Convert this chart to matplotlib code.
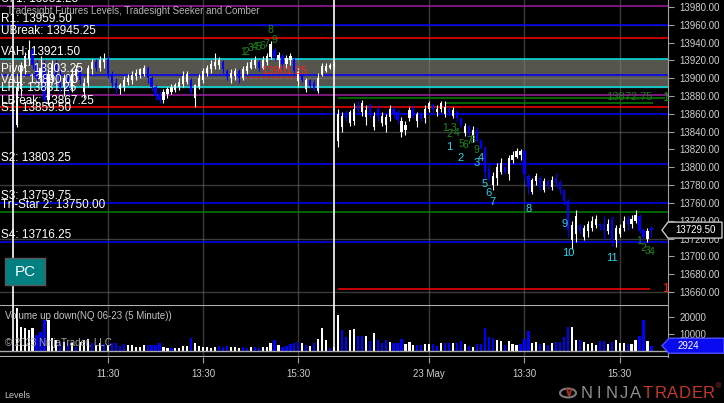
import numpy as np
import matplotlib.pyplot as plt
from matplotlib.patches import Rectangle, Polygon, Circle
from matplotlib.transforms import IdentityTransform

plt.rcParams['font.family'] = ['Liberation Sans', 'DejaVu Sans']

W, H = 724, 403

# --- 5 minute NQ bars, 22 May (bar -1 = previous session close) and 23 May ---
opens = [13862, 13848, 13888, 13912, 13922, 13932, 13915, 13900, 13915, 13876,
         13900, 13915, 13905, 13890, 13900, 13888, 13903, 13910, 13885, 13895,
         13910, 13918, 13912, 13918, 13922, 13905, 13895, 13888, 13890, 13896,
         13898, 13902, 13904, 13905, 13912, 13900, 13890, 13882, 13876, 13882,
         13885, 13887, 13890, 13894, 13896, 13898, 13878, 13890, 13898, 13906,
         13910, 13914, 13915, 13918, 13908, 13900, 13902, 13908, 13900, 13908,
         13912, 13915, 13918, 13912, 13918, 13924, 13932, 13920, 13925, 13916,
         13920, 13922, 13897, 13904, 13888, 13898, 13895, 13886, 13904, 13908,
         13912, 13914,
         13830, 13845, 13860, 13850, 13852, 13870, 13862, 13856, 13870, 13845,
         13866, 13850, 13848, 13856, 13866, 13862, 13840, 13842, 13855, 13866,
         13852, 13860, 13855, 13865, 13870, 13862, 13866, 13860, 13866, 13858,
         13862, 13855, 13838, 13846, 13835, 13842, 13830, 13822, 13798, 13780,
         13788, 13795, 13800, 13792, 13808, 13812, 13814, 13818, 13790, 13772,
         13785, 13788, 13775, 13785, 13778, 13788, 13784, 13775, 13762, 13718,
         13725, 13735, 13722, 13728, 13732, 13735, 13736, 13736, 13728, 13742,
         13718, 13725, 13732, 13742, 13736, 13740, 13745, 13730, 13720, 13732]
highs = [13866, 13895, 13918, 13930, 13943, 13935, 13920, 13925, 13920, 13910,
         13920, 13920, 13910, 13905, 13905, 13910, 13915, 13912, 13900, 13915,
         13922, 13922, 13925, 13928, 13925, 13908, 13900, 13895, 13902, 13905,
         13908, 13910, 13912, 13915, 13914, 13902, 13892, 13886, 13888, 13890,
         13893, 13895, 13900, 13908, 13908, 13900, 13894, 13905, 13912, 13915,
         13920, 13928, 13924, 13920, 13910, 13910, 13912, 13910, 13914, 13918,
         13922, 13925, 13920, 13925, 13928, 13942, 13934, 13930, 13928, 13926,
         13928, 13924, 13911, 13905, 13900, 13899, 13898, 13906, 13917, 13917,
         13917, 13918,
         13866, 13862, 13864, 13864, 13872, 13874, 13876, 13870, 13872, 13862,
         13870, 13862, 13860, 13870, 13868, 13866, 13856, 13852, 13868, 13870,
         13862, 13862, 13870, 13874, 13872, 13870, 13875, 13874, 13868, 13868,
         13864, 13856, 13850, 13848, 13846, 13845, 13832, 13824, 13805, 13795,
         13805, 13810, 13803, 13814, 13818, 13822, 13820, 13820, 13792, 13788,
         13794, 13790, 13788, 13786, 13790, 13794, 13786, 13776, 13764, 13740,
         13752, 13736, 13735, 13740, 13745, 13746, 13738, 13745, 13742, 13745,
         13735, 13736, 13745, 13746, 13746, 13752, 13748, 13732, 13732, 13734]
lows = [13831, 13845, 13880, 13905, 13915, 13910, 13895, 13895, 13872, 13870,
        13895, 13895, 13885, 13880, 13880, 13885, 13898, 13893, 13878, 13890,
        13905, 13908, 13908, 13912, 13900, 13890, 13882, 13882, 13886, 13892,
        13894, 13898, 13900, 13902, 13895, 13886, 13876, 13872, 13872, 13878,
        13882, 13884, 13887, 13890, 13894, 13882, 13868, 13888, 13895, 13902,
        13906, 13910, 13910, 13906, 13898, 13895, 13898, 13895, 13898, 13905,
        13910, 13912, 13908, 13910, 13915, 13922, 13920, 13912, 13912, 13912,
        13915, 13906, 13890, 13896, 13884, 13889, 13886, 13883, 13902, 13907,
        13910, 13912,
        13823, 13840, 13852, 13846, 13848, 13860, 13858, 13848, 13857, 13842,
        13852, 13846, 13840, 13852, 13855, 13850, 13834, 13836, 13852, 13855,
        13845, 13852, 13850, 13862, 13862, 13858, 13862, 13856, 13858, 13855,
        13852, 13845, 13835, 13834, 13828, 13828, 13820, 13788, 13785, 13774,
        13780, 13792, 13792, 13786, 13805, 13810, 13808, 13786, 13770, 13770,
        13780, 13774, 13772, 13776, 13775, 13778, 13770, 13758, 13722, 13708,
        13716, 13725, 13718, 13722, 13728, 13732, 13730, 13720, 13725, 13712,
        13710, 13722, 13728, 13730, 13732, 13738, 13726, 13718, 13716, 13722]
closes = [13845, 13890, 13915, 13925, 13932, 13915, 13900, 13912, 13876, 13905,
          13915, 13900, 13890, 13900, 13888, 13905, 13910, 13898, 13895, 13912,
          13918, 13912, 13920, 13922, 13905, 13895, 13888, 13892, 13898, 13900,
          13904, 13906, 13910, 13912, 13900, 13890, 13880, 13876, 13884, 13888,
          13890, 13892, 13896, 13903, 13905, 13884, 13892, 13900, 13908, 13912,
          13916, 13918, 13920, 13910, 13902, 13906, 13908, 13900, 13910, 13914,
          13918, 13920, 13912, 13920, 13925, 13938, 13924, 13926, 13916, 13923,
          13925, 13908, 13908, 13898, 13898, 13891, 13888, 13900, 13914, 13914,
          13915, 13916,
          13860, 13858, 13855, 13862, 13866, 13864, 13872, 13864, 13860, 13858,
          13856, 13858, 13856, 13865, 13860, 13853, 13852, 13848, 13864, 13858,
          13860, 13855, 13866, 13872, 13865, 13866, 13872, 13868, 13862, 13864,
          13855, 13848, 13846, 13838, 13842, 13830, 13822, 13795, 13788, 13790,
          13800, 13805, 13795, 13810, 13814, 13818, 13818, 13792, 13778, 13786,
          13790, 13778, 13785, 13780, 13786, 13782, 13774, 13762, 13730, 13735,
          13745, 13728, 13732, 13736, 13740, 13742, 13734, 13730, 13736, 13718,
          13732, 13732, 13740, 13736, 13742, 13746, 13728, 13722, 13728, 13729.5]

volumes = [1400, 25500, 14500, 13500, 12500, 13500, 9400, 11500, 18500, 18500,
           7400, 6400, 5400, 5400, 4400, 4400, 2400, 5400, 6400, 6800,
           4400, 3400, 4400, 4000, 3400, 4400, 4400, 2800, 4000, 3400,
           3400, 2400, 2400, 3400, 3400, 3400, 3400, 4400, 2400, 1400,
           1400, 1400, 1400, 3000, 3000, 7800, 4800, 2800, 2400, 2400,
           1400, 2400, 2800, 2400, 2800, 2000, 2400, 1400, 2000, 1400,
           2000, 2000, 1400, 2400, 2400, 4400, 6400, 3400, 2400, 2800,
           3800, 4400, 5400, 4400, 3400, 2800, 4400, 6800, 13500, 6400,
           1400, 2400,
           21500, 12450, 8430, 12450, 13050, 8830, 8830, 8830, 5820, 10640,
           6430, 4820, 6430, 5420, 4620, 4420, 7030, 4020, 5220, 3410,
           3410, 3410, 4020, 3800, 4020, 2810, 4620, 4420, 4820, 4620,
           4820, 5820, 4020, 2810, 2410, 4020, 4020, 13650, 8030, 7630,
           6430, 5820, 3410, 5820, 4020, 3610, 4020, 7030, 11850, 4820,
           5220, 4220, 4620, 3410, 4820, 5220, 5220, 8230, 14260, 14460,
           6430, 6430, 5220, 4020, 4820, 3610, 5820, 5820, 4020, 5220,
           6430, 4420, 4420, 4020, 4020, 6430, 8830, 18470, 5820, 2924]
# w = up volume (white), d = down volume (blue)
volume_dir = ("dwwwwwdddw" "wwdwdwdwww" "dwwdwddddw" "wwwwddddww" "dwwwwdwwww"
              "wwdddwwwdd" "wddwwwdwdd" "dddwdwdwww" "dw"
              "wddwwddwdw" "dddwdddwww" "ddwwddwddw" "ddwdwddddd" "wwdwwwdddw"
              "wdwdwddddw" "wdwwwwddwd" "wwwdwwddwd")

# levels (Tradesight Futures Levels)
level_names = ['UI 1', 'R1', 'UBreak', 'VAH', 'Pivot', 'VAL', 'LFT', 'LBreak',
               'S1', 'S2', 'S3', 'Tri-Star 2', 'S4']
level_prices = [13981.25, 13959.50, 13945.25, 13921.50, 13903.25, 13890.00,
                13881.25, 13867.25, 13859.50, 13803.25, 13759.75, 13750.00, 13716.25]
level_colors = ['#a01ea0', '#0000ff', '#ff0000', '#00e8e8', '#0000ff', '#00e8e8',
                '#a01ea0', '#ff0000', '#0000ff', '#0000ff', '#0000ff', '#008000', '#0000ff']

# seeker / comber counts
seeker_text = ['1', '2', '3', '4', '5', '6', '7', '8', '9',
               '1', '2', '3', '4', '5', '6', '7', '8', '9',
               '1', '2', '3', '4']
seeker_bar = [57, 58, 59, 60, 61, 62, 63, 64, 65,
              108, 109, 110, 111, 112, 113, 114, 115, 116,
              157, 158, 159, 160]
seeker_price = [13929.5, 13929.5, 13934, 13935, 13935, 13936, 13938.5, 13954, 13943,
                13844, 13837, 13844, 13838, 13826, 13825, 13830, 13831, 13819,
                13717, 13709, 13706, 13705]
comber_text = ['1', '2', '3', '4', '5', '6', '7', '8', '9', '10', '11']
comber_bar = [109, 112, 116, 117, 118, 119, 120, 129, 138, 139, 150]
comber_price = [13823, 13810, 13805, 13810, 13781, 13771, 13761, 13753, 13736, 13704, 13698]

time_ticks = [23, 47, 71, 104, 128, 152]
time_labels = ['11:30', '13:30', '15:30', '23 May', '13:30', '15:30']
session_breaks = [-0.9, 80.05]

x = np.arange(len(closes)) - 1
o = np.array(opens, float)
c = np.array(closes, float)
up = c >= o

fig = plt.figure(figsize=(W / 100, H / 100), dpi=100, facecolor='black')


def frac(x0, y0, x1, y1):
    return [x0 / W, 1 - y1 / H, (x1 - x0) / W, (y1 - y0) / H]


ax = fig.add_axes(frac(0, 0, 668, 305))
axv = fig.add_axes(frac(0, 305, 668, 357), sharex=ax)
for a in (ax, axv):
    a.set_facecolor('black')
    for s in a.spines.values():
        s.set_visible(False)

ax.set_xlim(-4.21, 164.18)
ax.set_ylim(13645.4, 13987.86)
axv.set_ylim(-3855, 27470)

# grid
grid_col = '#808080'
for t in time_ticks:
    ax.axvline(t, color=grid_col, alpha=0.45, lw=1, zorder=1)
    axv.axvline(t, color=grid_col, alpha=0.45, lw=1, zorder=1)
ax.axhspan(13890.0, 13921.5, color='#56554d', zorder=0)
for p in np.arange(13660, 13961, 60):
    ax.axhline(p, color=grid_col, alpha=0.45, lw=1, zorder=1)

# levels
for name, p, col in zip(level_names, level_prices, level_colors):
    ax.axhline(p, color=col, lw=1.1, zorder=2)
    ax.annotate(f'{name}: {p:.2f}', (ax.get_xlim()[0], p), xytext=(1, 0.5),
                textcoords='offset points', color='white', fontsize=8.5,
                va='bottom', ha='left', zorder=6, annotation_clip=False)

# day 2 targets
ax.hlines(13877.5, 81, 163.4, color='#008000', lw=1.1, zorder=2)
ax.hlines(13872.75, 108.2, 160.3, color='#008000', lw=1.1, zorder=2)
ax.text(160.3, 13873.5, '13872.75', color='#1c7a1c', fontsize=8, ha='right', va='bottom', zorder=6)
ax.text(163.6, 13877.5, '1', color='#1c8c1c', fontsize=9, ha='center', va='center', zorder=6)
ax.hlines(13663, 81, 159.6, color='#ff0000', lw=1.1, zorder=2)
ax.text(163.6, 13663, '1', color='#ff2020', fontsize=9, ha='center', va='center', zorder=6)
ax.hlines(13901.25, 56.8, 71.9, color='#ff0000', lw=0.9, ls=(0, (2, 2)), zorder=2)
ax.text(61.5, 13902.5, '13901.25', color='#ff2020', fontsize=8, ha='left', va='bottom', zorder=7)

# candles
cols = np.where(up, 'white', '#0000ff')
ax.vlines(x, lows, highs, colors=cols, lw=0.8, zorder=3)
body_lo = np.minimum(o, c)
body_h = np.maximum(np.abs(c - o), 0.8)
ax.bar(x, body_h, bottom=body_lo, width=0.55, color=cols, linewidth=0, zorder=4)

for t, b, p in zip(seeker_text, seeker_bar, seeker_price):
    ax.text(b, p, t, color='#1c8a1c', fontsize=7.5, ha='center', va='center', zorder=7)
for t, b, p in zip(comber_text, comber_bar, comber_price):
    ax.text(b, p, t, color='#2ad4f0', fontsize=8, ha='center', va='center', zorder=7)

# session breaks
for sb in session_breaks:
    ax.axvline(sb, color='white', lw=1.2, zorder=5)
    axv.vlines(sb, 0, 27470, color='white', lw=1.2, zorder=5)

# volume
vcols = ['white' if d == 'w' else '#0000ff' for d in volume_dir]
axv.bar(x, volumes, width=0.55, color=vcols, linewidth=0, zorder=3)
axv.axhline(0, color='#a8a8a8', lw=1, zorder=4)
axv.axhline(27470, color='#b0b0b0', lw=1.5, zorder=4)
axv.axhline(-3855, color='#b0b0b0', lw=1.5, zorder=4)

# axes ticks
ax.yaxis.tick_right()
ax.set_yticks(np.arange(13660, 13981, 20))
ax.set_yticklabels([f'{v:.2f}' for v in np.arange(13660, 13981, 20)])
ax.tick_params(axis='y', colors='#a0a0a0', labelcolor='#cfcfcf', labelsize=7, length=4, pad=4)
ax.tick_params(axis='x', bottom=False, labelbottom=False)
ax.spines['right'].set_visible(True)
ax.spines['right'].set_color('#a0a0a0')

axv.yaxis.tick_right()
axv.set_yticks([10000, 20000])
axv.set_yticklabels(['10000', '20000'])
axv.tick_params(axis='y', colors='#a0a0a0', labelcolor='#cfcfcf', labelsize=7, length=4, pad=4)
axv.set_xticks(time_ticks)
axv.set_xticklabels(time_labels)
axv.tick_params(axis='x', colors='#a0a0a0', labelcolor='#cfcfcf', labelsize=7, length=4, pad=4.5)
axv.spines['right'].set_visible(True)
axv.spines['right'].set_color('#a0a0a0')

# texts
fig.text(7 / W, 1 - 11 / H, 'Tradesight Futures Levels, Tradesight Seeker and Comber',
         color='#b4b4b4', fontsize=7, va='center', ha='left')
fig.text(5 / W, 1 - 316 / H, 'Volume up down(NQ 06-23 (5 Minute))',
         color='#c4c4c4', fontsize=7, va='center', ha='left', zorder=10)
fig.text(5 / W, 1 - 343 / H, '\u00a9 2023 NinjaTrader, LLC',
         color='#a8a8a8', fontsize=7, va='center', ha='left', zorder=10)
fig.text(4 / W, 1 - 395 / H, 'Levels', color='#c4c4c4', fontsize=6.5, va='center', ha='left')

# PC box
fig.add_artist(Rectangle((5 / W, 1 - 285 / H), 40 / W, 27 / H, transform=fig.transFigure,
                         facecolor='#008080', edgecolor='#5a5a5a', lw=1))
fig.text(25 / W, 1 - 271.5 / H, 'PC', color='white', fontsize=11, ha='center', va='center')

# current price / volume markers
fig.canvas.draw()
yd = ax.transData.transform((0, closes[-1]))[1]
fig.add_artist(Polygon([(662, yd), (668, yd + 8), (722, yd + 8), (722, yd - 8), (668, yd - 8)],
                       closed=True, transform=IdentityTransform(), facecolor='black',
                       edgecolor='#c8c8c8', lw=1, zorder=20))
fig.text(695, yd, f'{closes[-1]:.2f}', transform=IdentityTransform(), color='white',
         fontsize=7, ha='center', va='center', zorder=21)
yv = axv.transData.transform((0, volumes[-1]))[1]
fig.add_artist(Polygon([(662, yv), (669, yv + 7.5), (724, yv + 7.5), (724, yv - 7.5), (669, yv - 7.5)],
                       closed=True, transform=IdentityTransform(), facecolor='#0a0af0',
                       edgecolor='#5050ff', lw=1, zorder=20))
fig.text(688, yv, f'{volumes[-1]}', transform=IdentityTransform(), color='white',
         fontsize=7, ha='center', va='center', zorder=21)

# NinjaTrader logo
fig.add_artist(Circle((568 / W, 1 - 393 / H), 8 / W, transform=fig.transFigure,
                      facecolor='none', edgecolor='#7a7a7a', lw=1.5))
fig.text(568 / W, 1 - 393 / H, '\u2228', color='#b03020', fontsize=9, ha='center', va='center',
         fontweight='bold')
for i, ch in enumerate('NINJATRADER'):
    fig.text((587 + i * 12.2) / W, 1 - 393 / H, ch, color='#8e8e8e' if i < 5 else '#c0392b',
             fontsize=12, ha='center', va='center')
fig.text(719 / W, 1 - 387 / H, '\u00ae', color='#c0392b', fontsize=5, ha='center', va='center')

fig.savefig('out.png', dpi=100, facecolor='black')
